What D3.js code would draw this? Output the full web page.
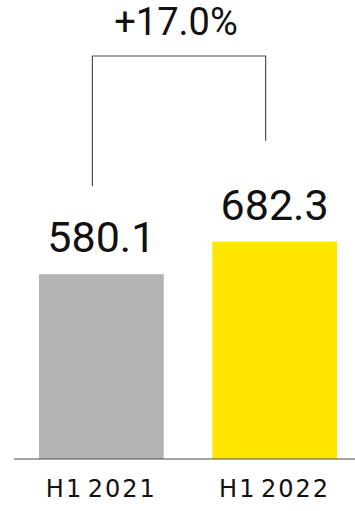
<!DOCTYPE html>
<html>
<head>
<meta charset="utf-8">
<script src="https://cdn.jsdelivr.net/npm/d3@7"></script>
<style>
  body { margin: 0; background: #fff; }
  text { font-family: Roboto, "Liberation Sans", sans-serif; font-weight: 400; fill: #111; }
  .cat { font-family: "DejaVu Sans", sans-serif; }
</style>
</head>
<body>
<script>
const categories = ['H1 2021', 'H1 2022']
const values = [580.1, 682.3]
const valueLabels = ['580.1', '682.3']
const colors = ['#b3b3b3', '#ffe600']
const changeLabel = '+17.0%'

const width = 355
const height = 511
const baseY = 459

const svg = d3.select('body')
  .append('svg')
  .attr('width', width)
  .attr('height', height)

const x = d3.scaleBand()
  .domain(categories)
  .range([39, 337])
  .paddingInner(0.28)
  .paddingOuter(0)

const y = d3.scaleLinear()
  .domain([0, 700])
  .range([baseY, 236])

// bars
svg.append('g')
  .selectAll('rect')
  .data(values)
  .enter()
  .append('rect')
  .attr('x', (d, i) => x(categories[i]))
  .attr('y', d => y(d))
  .attr('width', x.bandwidth())
  .attr('height', d => baseY - y(d))
  .attr('fill', (d, i) => colors[i])

// baseline
svg.append('line')
  .attr('x1', 14)
  .attr('x2', width)
  .attr('y1', baseY)
  .attr('y2', baseY)
  .attr('stroke', '#4d4d4d')
  .attr('stroke-width', 1.2)

// value labels
svg.append('g')
  .selectAll('text')
  .data(values)
  .enter()
  .append('text')
  .attr('x', (d, i) => x(categories[i]) + x.bandwidth() / 2)
  .attr('y', d => y(d) - 22)
  .attr('text-anchor', 'middle')
  .attr('font-size', 43)
  .text((d, i) => valueLabels[i])

// category labels
svg.append('g')
  .selectAll('text')
  .data(categories)
  .enter()
  .append('text')
  .attr('class', 'cat')
  .attr('x', d => x(d) + x.bandwidth() / 2)
  .attr('y', 497)
  .attr('text-anchor', 'middle')
  .attr('font-size', 24)
  .attr('letter-spacing', 2)
  .attr('word-spacing', -5)
  .text(d => d)

// change bracket
const cx = d => x(d) + x.bandwidth() / 2 - 9
const topY = 56
const leftEnd = y(values[0]) - 88
const rightEnd = y(values[1]) - 101

svg.append('path')
  .attr('d', `M${cx(categories[0])},${leftEnd}V${topY}H${cx(categories[1])}V${rightEnd}`)
  .attr('fill', 'none')
  .attr('stroke', '#4d4d4d')
  .attr('stroke-width', 1.2)

svg.append('text')
  .attr('x', (cx(categories[0]) + cx(categories[1])) / 2 - 3)
  .attr('y', 35)
  .attr('text-anchor', 'middle')
  .attr('font-size', 38)
  .text(changeLabel)
</script>
</body>
</html>
